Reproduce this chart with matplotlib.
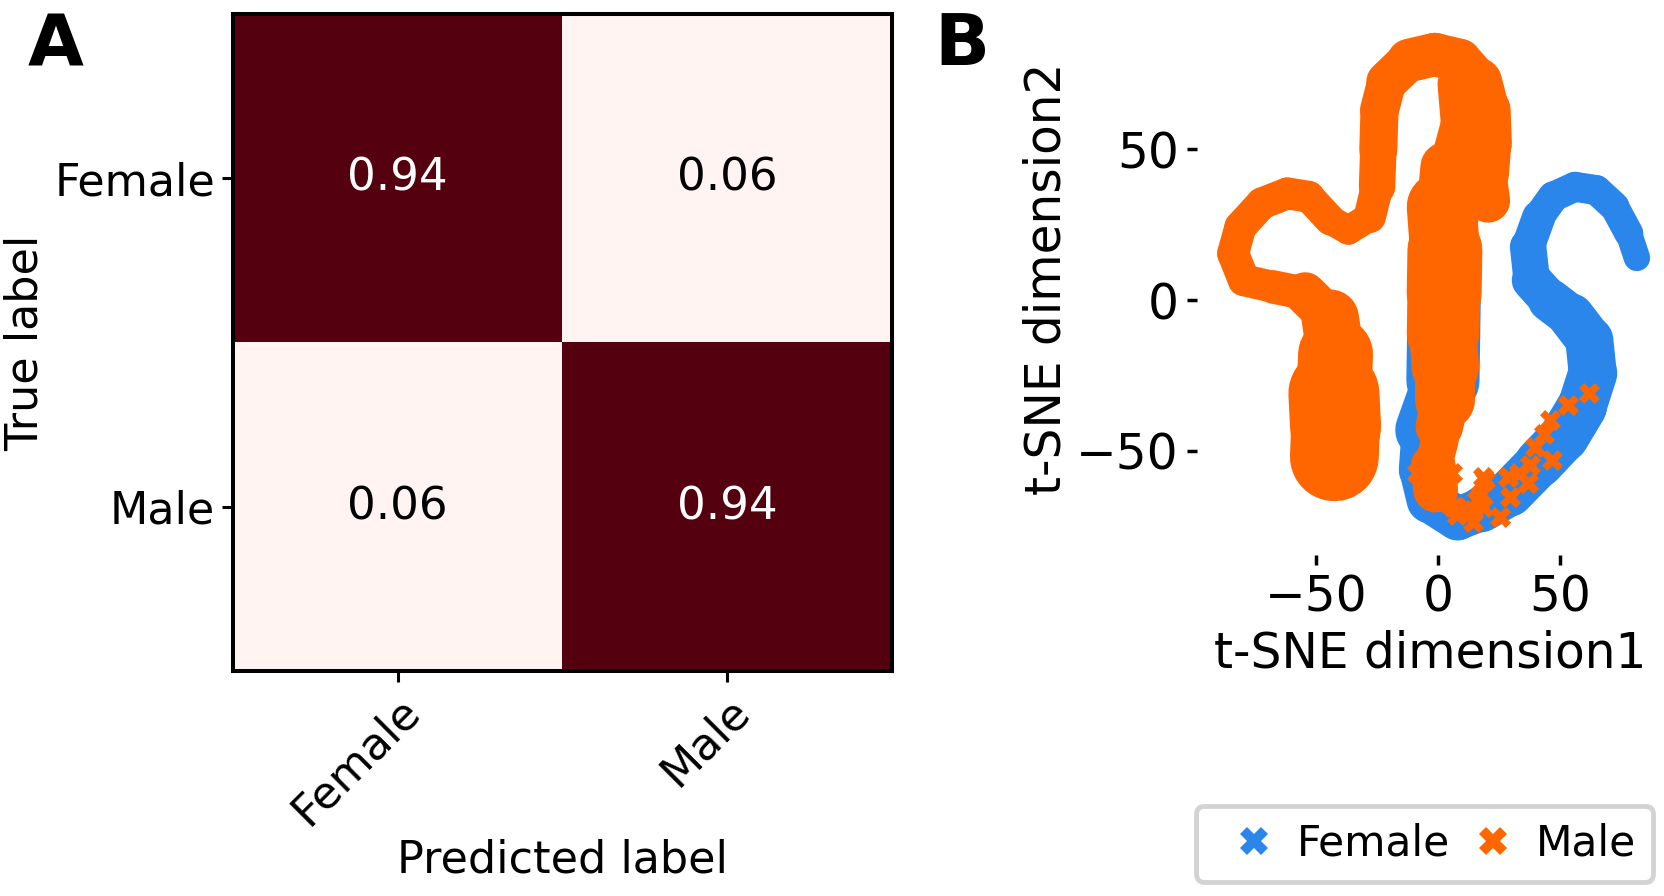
import numpy as np
import matplotlib
matplotlib.use('Agg')
import matplotlib.pyplot as plt
from matplotlib.colors import LinearSegmentedColormap
from matplotlib.lines import Line2D

# confusion matrix (rows: true label, cols: predicted label)
klassen = ['Female', 'Male']
matrix = np.array([[0.94, 0.06],
                   [0.06, 0.94]])

# t-SNE embedding, read off the picture as the middle line of each band
# (x, y and the band thickness, all in t-SNE units)
female_x = [81.5, 78.2, 72.3, 64.9, 56.1, 47.2, 41.3, 36.9, 38.4, 45.7, 54.6, 62.0,
            63.4, 59.0, 51.6, 41.3, 29.5, 17.7, 8.0, -3.5, -6.5, -5.3, 2.0, 2.5, 2.5]
female_y = [14.0, 22.1, 31.0, 36.5, 37.6, 34.3, 27.6, 17.7, 6.6, 0.0, -5.5, -13.3,
            -24.3, -35.4, -45.4, -54.2, -64.0, -69.5, -72.5, -66.5, -56.4, -43.1, -26.6, 0.0, 26.6]
female_spread = [10.2, 11.5, 12.3, 12.3, 12.3, 12.3, 13.1, 14.3, 15.6, 17.2, 18.4, 19.7,
                 19.7, 20.5, 20.5, 19.7, 19.0, 18.4, 17.0, 19.0, 18.4, 20.0, 29.0, 31.0, 24.0]

male_hook_x = [-42.5, -42.0, -42.7, -42.0, -44.2, -54.5, -67.8, -79.6, -84.0, -81.0, -72.2, -61.8,
               -53.0, -44.2, -36.8, -28.0, -25.0, -24.5, -24.0, -21.0, -12.0, -1.4, 8.9, 16.5,
               19.5, 20.0, 19.0, 20.5]
male_hook_y = [-52.0, -42.0, -31.0, -18.0, -6.0, 2.2, 4.4, 6.6, 15.5, 24.3, 32.1, 35.4,
               34.3, 26.6, 23.2, 27.6, 37.6, 49.8, 63.1, 72.5, 79.5, 81.5, 79.5, 72.5,
               63.0, 52.0, 42.0, 33.0]
male_hook_spread = [33.0, 39.8, 34.8, 26.6, 20.5, 14.3, 13.1, 13.1, 13.1, 13.1, 13.1, 13.1,
                    13.1, 12.3, 11.5, 12.3, 14.3, 15.6, 15.6, 16.4, 17.2, 18.4, 17.2, 18.4,
                    20.5, 20.5, 19.7, 16.4]

male_col_x = [5.9, 7.4, 3.0, 1.5, 2.8, 2.5, 2.0, 3.0, 3.0, 0.5, 0.8, -2.0, -1.0]
male_col_y = [71.9, 57.5, 44.2, 31.0, 16.6, 2.2, -11.1, -22.1, -33.2, -42.0, -46.5, -55.0, -63.0]
male_col_spread = [12.3, 12.3, 14.3, 26.6, 30.7, 30.7, 28.7, 26.6, 22.5, 16.4, 12.3, 18.4, 18.4]

# loose male points inside the female arc
male_los_x = [62.0, 53.1, 45.7, 43.5, 39.9, 46.5, 37.7, 33.2, 36.9, 28.8, 29.5, 19.2, 17.7,
              7.4, 0.0, 5.9, -2.9, -8.8, -0.5, 6.3, 7.7, 14.5, 18.6, 14.5, 25.4, 18.6, 16.0]
male_los_y = [-31.0, -34.8, -39.8, -44.3, -48.7, -53.1, -54.8, -57.5, -60.8, -58.6, -65.3, -59.7, -64.2,
              -68.6, -66.4, -57.5, -59.7, -57.5, -66.9, -68.6, -71.4, -69.7, -68.6, -73.6, -71.9, -58.7, -66.4]

blauw = '#2a86ea'
oranje = '#ff6600'

fig = plt.figure(figsize=(16.64, 8.96), dpi=100)

# ---------------- A: confusion matrix
axA = fig.add_axes([233 / 1664, 225 / 896, 659 / 1664, 657 / 896])
cmap = LinearSegmentedColormap.from_list('rood', ['#fff4f2', '#55000e'])
axA.imshow(matrix, cmap=cmap, vmin=matrix.min(), vmax=matrix.max(), aspect='auto')
for i in range(2):
    for j in range(2):
        kleur = 'white' if matrix[i, j] > 0.5 else 'black'
        axA.text(j, i, f'{matrix[i, j]:.2f}', ha='center', va='center', color=kleur, fontsize=32.5)
axA.set_xticks([0, 1])
axA.set_xticklabels(klassen, rotation=45, ha='right', va='top', rotation_mode='anchor')
axA.set_yticks([0, 1])
axA.set_yticklabels(klassen)
axA.tick_params(labelsize=32, length=8, width=2.2, pad=5)
for s in axA.spines.values():
    s.set_linewidth(2.9)
axA.set_xlabel('Predicted label', fontsize=32)
axA.xaxis.set_label_coords(0.5, -0.255)
axA.set_ylabel('True label', fontsize=32)
axA.yaxis.set_label_coords(-0.283, 0.5)

# ---------------- B: t-SNE
axB = fig.add_axes([1197 / 1664, 341 / 896, 467 / 1664, 552 / 896])
axB.set_xlim(-98.8, 92.6)
axB.set_ylim(-84.6, 98.6)
ppu = axB.bbox.width / (92.6 + 98.8) * 72 / fig.dpi


def band(ax, xs, ys, spread, kleur, z):
    for i in range(len(xs) - 1):
        lw = (spread[i] + spread[i + 1]) / 2 * ppu
        ax.plot(xs[i:i + 2], ys[i:i + 2], color=kleur, lw=lw,
                solid_capstyle='round', zorder=z)


band(axB, female_x, female_y, female_spread, blauw, 1)
band(axB, male_hook_x, male_hook_y, male_hook_spread, oranje, 2)
band(axB, male_col_x, male_col_y, male_col_spread, oranje, 2)
axB.scatter(male_los_x, male_los_y, marker='X', s=230, color=oranje, linewidths=0, zorder=3)

for s in axB.spines.values():
    s.set_visible(False)
axB.set_xticks([-50, 0, 50])
axB.set_yticks([-50, 0, 50])
axB.tick_params(labelsize=35, length=7, width=2.5, pad=6)
axB.set_xlabel('t-SNE dimension1', fontsize=35)
axB.xaxis.set_label_coords(0.5, -0.135)
axB.set_ylabel('t-SNE dimension2', fontsize=35)
axB.yaxis.set_label_coords(-0.27, 0.5)

handles = [Line2D([], [], marker='X', ls='none', color=blauw, markersize=20, markeredgewidth=0),
           Line2D([], [], marker='X', ls='none', color=oranje, markersize=20, markeredgewidth=0)]
leg = fig.legend(handles, ['Female', 'Male'], loc='upper left',
                 bbox_to_anchor=(1196 / 1664, 1 - 806 / 896), borderaxespad=0, ncol=2,
                 fontsize=30.5, handlelength=1.93, handletextpad=0.05, columnspacing=0.05,
                 borderpad=0.4, edgecolor='#d3d3d3', framealpha=1)
leg.get_frame().set_linewidth(3.5)

fig.text(28 / 1664, 1 - 65 / 896, 'A', fontsize=52, fontweight='bold', va='baseline')
fig.text(934 / 1664, 1 - 65 / 896, 'B', fontsize=52, fontweight='bold', va='baseline')

fig.savefig('out.png', dpi=100)
